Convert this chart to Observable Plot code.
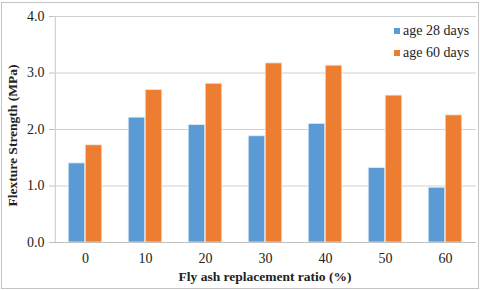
<!DOCTYPE html>
<html><head><meta charset="utf-8">
<script src="https://cdn.jsdelivr.net/npm/d3@7"></script>
<script src="https://cdn.jsdelivr.net/npm/@observablehq/plot@0.6"></script>
<style>
html,body{margin:0;padding:0;background:#fff;}
#wrap{position:relative;width:480px;height:290px;overflow:hidden;font-family:"Liberation Serif","Times New Roman",serif;}
#frame{position:absolute;left:1px;top:2px;width:476px;height:285px;border:1px solid #c4c4c4;pointer-events:none;}
.leg{position:absolute;left:394px;font-size:14px;color:#222;white-space:nowrap;line-height:16px;}
.leg span.sw{display:inline-block;width:6px;height:6px;margin-right:3px;vertical-align:1px;}
svg text{font-family:"Liberation Serif","Times New Roman",serif;}
</style></head>
<body><div id="wrap"><div id="frame"></div></div>
<script>
const categories = ["0","10","20","30","40","50","60"];
const series = ["age 28 days","age 60 days"];
const age28 = [1.40,2.21,2.08,1.88,2.10,1.32,0.97];
const age60 = [1.72,2.70,2.81,3.17,3.13,2.60,2.25];
const yTicks = [0,1,2,3,4];
const colors = ["#5B9BD5","#ED7D31"];

const d28 = categories.map((c,i)=>({cat:c, v:age28[i]}));
const d60 = categories.map((c,i)=>({cat:c, v:age60[i]}));

const chart = Plot.plot({
  width:480, height:290,
  marginTop:16, marginBottom:48, marginLeft:53, marginRight:4,
  style:{fontFamily:"Liberation Serif, serif", fontSize:"14px", color:"#222", background:"transparent"},
  x:{domain:categories, padding:0, label:null},
  y:{domain:[0,4], ticks:yTicks, label:null},
  marks:[
    Plot.ruleY(yTicks.slice(1), {stroke:"#d0d0d0", strokeWidth:1}),
    Plot.ruleX([0], {x:()=>categories[0], stroke:"#c8c8c8", dx:-30.2}),
    Plot.barY(d28, {x:"cat", y:"v", fill:colors[0], insetLeft:13.2, insetRight:30.2, stroke:"#e8eef6", strokeWidth:0.8}),
    Plot.barY(d60, {x:"cat", y:"v", fill:colors[1], insetLeft:30.2, insetRight:13.2, stroke:"#f6e6dc", strokeWidth:0.8}),
    Plot.ruleY([0], {stroke:"#c0c0c0"}),
    Plot.axisY({ticks:yTicks, tickFormat:d=>d.toFixed(1), tickSize:4, tickPadding:5, stroke:"#c0c0c0",
      label:"Flexture Strength (MPa)", labelAnchor:"center", labelArrow:"none", labelOffset:46}),
    Plot.axisX({tickSize:0, tickPadding:11, label:"Fly ash replacement ratio (%)", labelAnchor:"center", labelArrow:"none", labelOffset:38})
  ]
});
d3.select(chart).selectAll("[aria-label='y-axis label'] text, [aria-label='x-axis label'] text").style("font-weight","bold").style("font-size","13.5px");
d3.select(chart).select("[aria-label='y-axis label']").attr("transform", function(){ return (this.getAttribute("transform")||"") + " translate(0,6)"; });
document.getElementById("wrap").appendChild(chart);
const wrap = document.getElementById("wrap");
series.forEach((s,i)=>{
  const d=document.createElement("div");
  d.className="leg"; d.style.top=(23+i*22)+"px";
  d.innerHTML=`<span class="sw" style="background:${colors[i]}"></span>${s}`;
  wrap.appendChild(d);
});
</script></body></html>
